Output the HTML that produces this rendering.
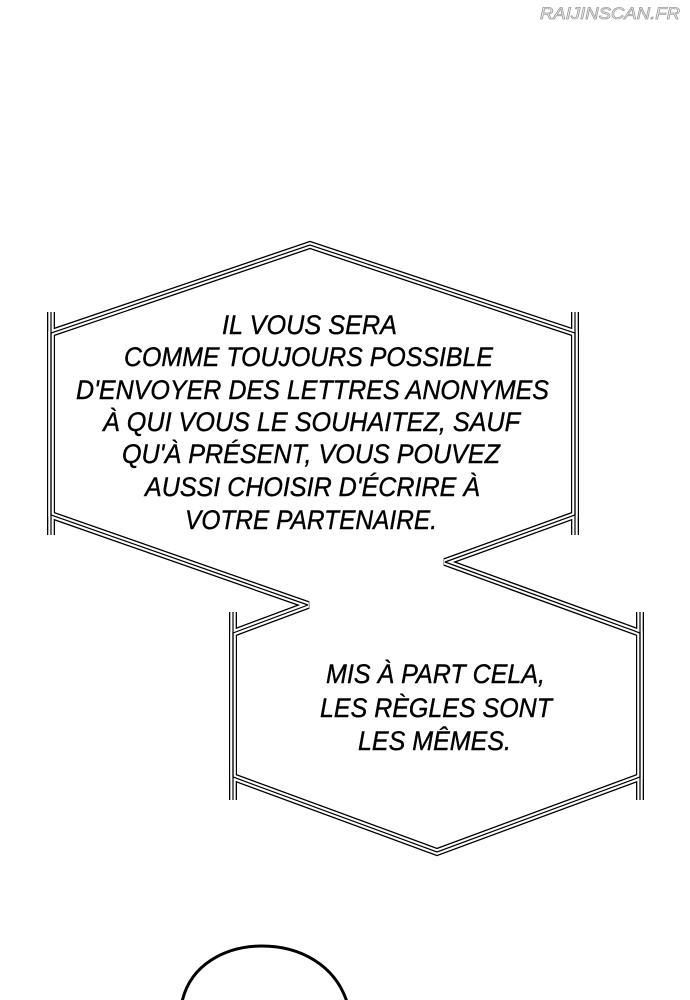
<!DOCTYPE html>
<html><head><meta charset="utf-8"><style>
html,body{margin:0;padding:0;background:#fff;}
svg{display:block;}
</style></head><body>
<svg width="690" height="1000" viewBox="0 0 690 1000" xmlns="http://www.w3.org/2000/svg">
<rect width="690" height="1000" fill="#fff"/>
<text x="610" y="19" text-anchor="middle" font-family="Liberation Sans, sans-serif" font-style="italic" font-size="17" fill="#fff" stroke="#999" stroke-width="0.8" textLength="140" lengthAdjust="spacingAndGlyphs">RAIJINSCAN.FR</text>
<defs>
<g id="frame">
<polygon fill="none" stroke-miterlimit="2" points="308,605 51,515 51,333 310,245 575,333 575,515 445,562 640,633 640,777 437,852 233,777 233,633" />
<line x1="51" y1="312" x2="51" y2="535"/>
<line x1="575" y1="312" x2="575" y2="535"/>
<line x1="233" y1="612" x2="233" y2="800"/>
<line x1="640" y1="612" x2="640" y2="800"/>
</g>
</defs>
<use href="#frame" fill="none" stroke="#000" stroke-width="8"/>
<use href="#frame" fill="none" stroke="#fff" stroke-width="5.4"/>
<use href="#frame" fill="none" stroke="#000" stroke-width="1.2"/>
<g font-family="Liberation Sans, sans-serif" font-style="italic" font-size="27" fill="#000" stroke="#000" stroke-width="0.4">
<text x="222" y="334" textLength="175" lengthAdjust="spacingAndGlyphs">IL VOUS SERA</text>
<text x="124" y="366" textLength="369" lengthAdjust="spacingAndGlyphs">COMME TOUJOURS POSSIBLE</text>
<text x="76" y="399" textLength="473" lengthAdjust="spacingAndGlyphs">D'ENVOYER DES LETTRES ANONYMES</text>
<text x="103" y="431" textLength="417" lengthAdjust="spacingAndGlyphs">À QUI VOUS LE SOUHAITEZ, SAUF</text>
<text x="122" y="463" textLength="378" lengthAdjust="spacingAndGlyphs">QU'À PRÉSENT, VOUS POUVEZ</text>
<text x="145" y="496" textLength="335" lengthAdjust="spacingAndGlyphs">AUSSI CHOISIR D'ÉCRIRE À</text>
<text x="185" y="529" textLength="252" lengthAdjust="spacingAndGlyphs">VOTRE PARTENAIRE.</text>
<text x="326" y="683" textLength="219" lengthAdjust="spacingAndGlyphs">MIS À PART CELA,</text>
<text x="320" y="717" textLength="232" lengthAdjust="spacingAndGlyphs">LES RÈGLES SONT</text>
<text x="358" y="750" textLength="153" lengthAdjust="spacingAndGlyphs">LES MÊMES.</text>
</g>
<path d="M182,1002 C190,965 225,946 262,946 C300,946 335,965 347,1002" fill="none" stroke="#000" stroke-width="3"/>
</svg>
</body></html>
